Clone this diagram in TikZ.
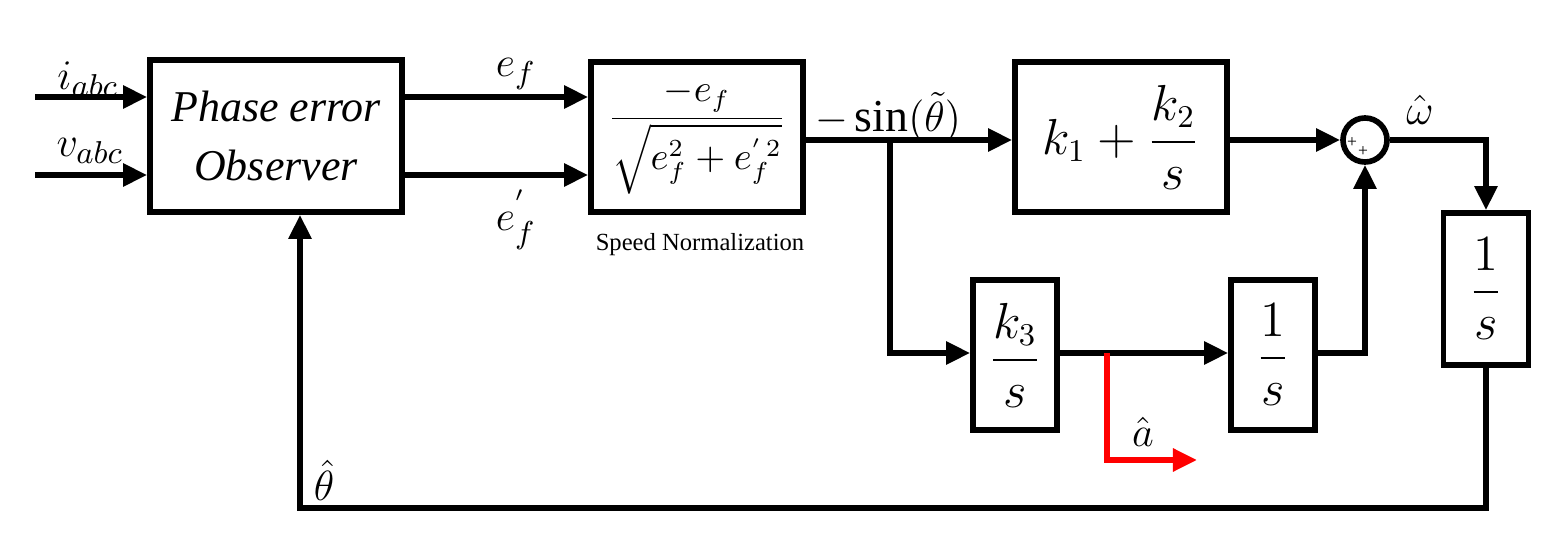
\documentclass[tikz,border=0pt]{standalone}
\usepackage{amsmath}
\usepackage{fontspec}
\setmainfont{Liberation Serif}
\usetikzlibrary{arrows.meta}
\begin{document}
\begin{tikzpicture}[x=0.01cm,y=-0.01cm,
  blk/.style={draw,line width=1.6pt,inner sep=0pt},
  ln/.style={line width=1.6pt},
  ar/.style={ln,-{Triangle[length=0.24cm,width=0.22cm]}},
  lab/.style={font=\fontsize{13}{14}\selectfont}]
\useasboundingbox (0,0) rectangle (1554,543);
\node[blk,minimum width=2.52cm,minimum height=1.52cm] (obs) at (276,136) {};
\node[font=\fontsize{12.5}{17}\selectfont\itshape,align=center] at (obs) {Phase error\\Observer};
\node[blk,minimum width=2.12cm,minimum height=1.5cm] (nrm) at (697,137)
  {\fontsize{10.5}{12}\selectfont$\dfrac{-e_f}{\sqrt{e_f^2+e_f^{'\,2}}}$};
\node[font=\fontsize{7}{8}\selectfont] at (700,245) {Speed Normalization};
\node[blk,minimum width=2.12cm,minimum height=1.5cm] (pi) at (1121,137)
  {\fontsize{13.5}{15}\selectfont$k_1+\dfrac{k_2}{s}$};
\node[draw,circle,line width=1.6pt,minimum size=0.44cm,inner sep=0pt] (sum) at (1365,140) {};
\node[font=\fontsize{5}{5}\selectfont] at (1352,143) {+};
\node[font=\fontsize{5}{5}\selectfont] at (1363,152) {+};
\node[blk,minimum width=0.85cm,minimum height=1.52cm] (int2) at (1486,289)
  {\fontsize{13.5}{15}\selectfont$\dfrac{1}{s}$};
\node[blk,minimum width=0.84cm,minimum height=1.5cm] (k3) at (1015,355)
  {\fontsize{13.5}{15}\selectfont$\dfrac{k_3}{s}$};
\node[blk,minimum width=0.84cm,minimum height=1.5cm] (int1) at (1273,355)
  {\fontsize{13.5}{15}\selectfont$\dfrac{1}{s}$};
% coordinates
\coordinate (i0) at (35,97); \coordinate (v0) at (35,175);
\coordinate (br) at (890,140); \coordinate (brd) at (890,353);
\coordinate (rd) at (1107,353); \coordinate (rd2) at (1107,460); \coordinate (re) at (1197,460);
\coordinate (c1) at (1365,353); \coordinate (c2) at (1486,140);
\coordinate (f1) at (1486,508); \coordinate (f2) at (300,508);
% connectors
\draw[ar] (i0) -- (obs.west|-i0);
\draw[ar] (v0) -- (obs.west|-v0);
\draw[ar] (obs.east|-i0) -- (nrm.west|-i0);
\draw[ar] (obs.east|-v0) -- (nrm.west|-v0);
\draw[ar] (nrm.east|-br) -- (pi.west|-br);
\draw[ar] (br) -- (brd) -- (k3.west|-brd);
\draw[ar] (k3.east|-brd) -- (int1.west|-brd);
\draw[ln,red,-{Triangle[length=0.24cm,width=0.22cm]}] (rd) -- (rd2) -- (re);
\draw[ar] (pi.east|-sum) -- (sum.west);
\draw[ar] (int1.east|-c1) -- (c1) -- (sum.south);
\draw[ar] (sum.east) -- (c2) -- (int2.north);
\draw[ar] (int2.south) -- (f1) -- (f2) -- (obs.south-|f2);
% labels
\node[lab] at (88,79) {$i_{abc}$};
\node[lab] at (90,151) {$v_{abc}$};
\node[lab] at (516,74) {$e_f$};
\node[lab] at (516,220) {$e_f^{'}$};
\node[lab] at (888,117) {$-\sin(\tilde{\theta})$};
\node[lab] at (1420,110) {$\hat{\omega}$};
\node[lab] at (1143,432) {$\hat{a}$};
\node[lab] at (324,480) {$\hat{\theta}$};
\end{tikzpicture}
\end{document}
